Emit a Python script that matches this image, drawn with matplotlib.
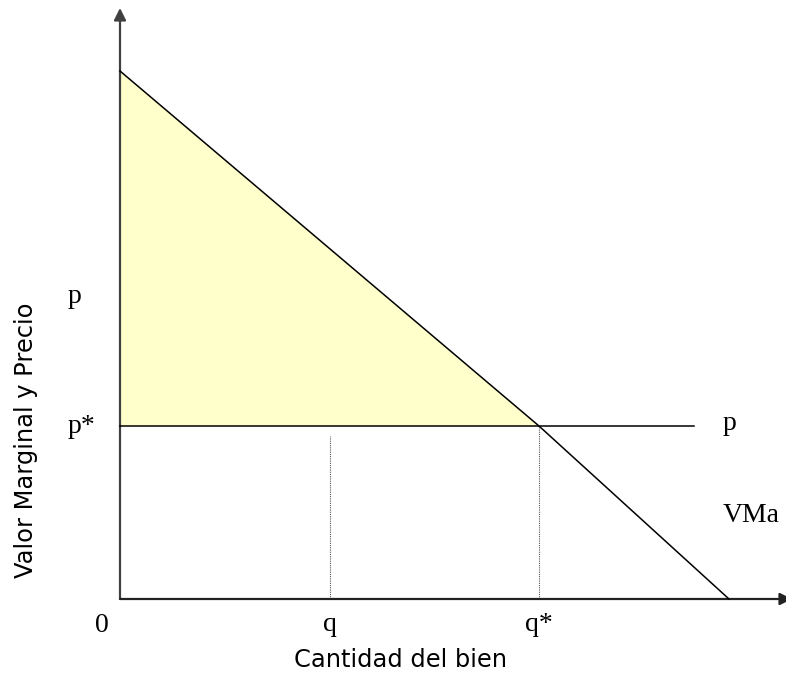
import matplotlib
matplotlib.use("Agg")
import matplotlib.pyplot as plt
from matplotlib.patches import Polygon

# Data (in chart units; origin at axes intersection)
vma_q = [0, 419, 609]          # marginal value curve, quantities
vma_p = [528, 173, 0]          # marginal value curve, values
price = 173                    # p*
price_line_end = 574
q_val = 210
q_star = 419
y_axis_top = 591
x_axis_end = 672

fig = plt.figure(figsize=(7.86, 6.74), dpi=100)
ax = fig.add_axes([0, 0, 1, 1])
ax.set_xlim(-120, 666)
ax.set_ylim(-75, 599)
ax.axis('off')

# consumer surplus triangle
tri = Polygon([[vma_q[0], vma_p[0]], [0, price], [q_star, price]],
              closed=True, facecolor='#FFFFCC', edgecolor='none', zorder=1)
ax.add_patch(tri)

# axes with arrows
axis_col = '#404040'
ax.annotate('', xy=(0, y_axis_top), xytext=(0, 0),
            arrowprops=dict(arrowstyle='-|>', color=axis_col, lw=1.6,
                            mutation_scale=18, shrinkA=0, shrinkB=0),
            annotation_clip=False, zorder=3)
ax.annotate('', xy=(x_axis_end, 0), xytext=(0, 0),
            arrowprops=dict(arrowstyle='-|>', color='#222222', lw=1.6,
                            mutation_scale=18, shrinkA=0, shrinkB=0),
            annotation_clip=False, zorder=3)

# marginal value curve
ax.plot(vma_q, vma_p, color='black', lw=1.1, zorder=4)
# price line
ax.plot([0, price_line_end], [price, price], color='black', lw=1.1, zorder=4)
# dotted guides
ax.plot([q_val, q_val], [0, price - 10], color='#555555', lw=0.8,
        linestyle=(0, (1, 1)), zorder=2)
ax.plot([q_star, q_star], [0, price], color='#555555', lw=0.8,
        linestyle=(0, (1, 1)), zorder=2)

serif = dict(family='Liberation Serif', fontsize=20, color='black')
ax.text(-52, 296, 'p', ha='left', va='baseline', **serif)
ax.text(-52, 166, 'p*', ha='left', va='baseline', **serif)
ax.text(-18, -33, '0', ha='center', va='baseline', **serif)
ax.text(q_val, -32, 'q', ha='center', va='baseline', **serif)
ax.text(q_star, -32, 'q*', ha='center', va='baseline', **serif)
ax.text(603, 169, 'p', ha='left', va='baseline', **serif)
ax.text(603, 77, 'VMa', ha='left', va='baseline', **serif)

sans = dict(family='DejaVu Sans', fontsize=17.4, color='black')
ax.text(281, -68, 'Cantidad del bien', ha='center', va='baseline', **sans)
ax.text(-94, 159, 'Valor Marginal y Precio', ha='center', va='center',
        rotation=90, **sans)

fig.savefig('out.png', dpi=100)
